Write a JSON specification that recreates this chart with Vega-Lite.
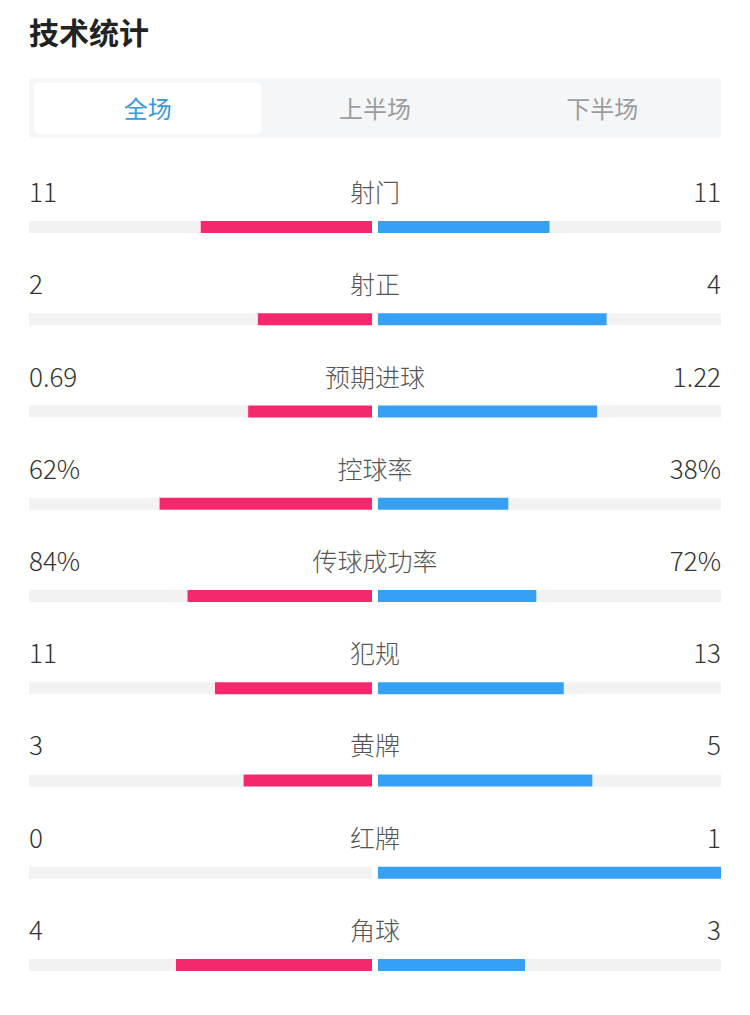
{
  "$schema": "https://vega.github.io/schema/vega-lite/v6.json",
  "background": "white",
  "padding": {"left": 29, "top": 20, "right": 29, "bottom": 0},
  "title": {"text": "技术统计", "anchor": "start", "fontSize": 30, "fontWeight": "bold", "color": "#222222", "font": "Noto Sans CJK SC", "offset": 28},
  "datasets": {
    "tabs": [
      {"tab": "全场", "sel": true},
      {"tab": "上半场", "sel": false},
      {"tab": "下半场", "sel": false}
    ],
    "stats": [
      {"stat": "射门", "side": "home", "value": 11, "label": "11"},
      {"stat": "射门", "side": "away", "value": 11, "label": "11"},
      {"stat": "射正", "side": "home", "value": 2, "label": "2"},
      {"stat": "射正", "side": "away", "value": 4, "label": "4"},
      {"stat": "预期进球", "side": "home", "value": 0.69, "label": "0.69"},
      {"stat": "预期进球", "side": "away", "value": 1.22, "label": "1.22"},
      {"stat": "控球率", "side": "home", "value": 62, "label": "62%"},
      {"stat": "控球率", "side": "away", "value": 38, "label": "38%"},
      {"stat": "传球成功率", "side": "home", "value": 84, "label": "84%"},
      {"stat": "传球成功率", "side": "away", "value": 72, "label": "72%"},
      {"stat": "犯规", "side": "home", "value": 11, "label": "11"},
      {"stat": "犯规", "side": "away", "value": 13, "label": "13"},
      {"stat": "黄牌", "side": "home", "value": 3, "label": "3"},
      {"stat": "黄牌", "side": "away", "value": 5, "label": "5"},
      {"stat": "红牌", "side": "home", "value": 0, "label": "0"},
      {"stat": "红牌", "side": "away", "value": 1, "label": "1"},
      {"stat": "角球", "side": "home", "value": 4, "label": "4"},
      {"stat": "角球", "side": "away", "value": 3, "label": "3"}
    ]
  },
  "bounds": "flush",
  "spacing": 43,
  "vconcat": [
    {
      "width": 692,
      "height": 60,
      "view": {"fill": "#f5f6f8", "stroke": null, "cornerRadius": 4},
      "data": {"name": "tabs"},
      "encoding": {
        "x": {"field": "tab", "type": "nominal", "sort": null, "axis": null, "scale": {"paddingInner": 0, "paddingOuter": 0.022}}
      },
      "layer": [
        {
          "transform": [{"filter": "datum.sel"}],
          "mark": {"type": "bar", "color": "white", "cornerRadius": 4},
          "encoding": {
            "y": {"datum": 0.07, "type": "quantitative", "scale": {"domain": [0, 1]}, "axis": null},
            "y2": {"datum": 0.92}
          }
        },
        {
          "mark": {"type": "text", "fontSize": 24, "font": "Noto Sans CJK SC", "baseline": "middle", "align": "center"},
          "encoding": {
            "y": {"datum": 0.45, "type": "quantitative"},
            "text": {"field": "tab"},
            "color": {"condition": {"test": "datum.sel", "value": "#3a9ad6"}, "value": "#9c9c9c"}
          }
        }
      ]
    },
    {
      "bounds": "flush",
      "spacing": 6,
      "hconcat": [
        {
          "width": 343,
          "height": 830,
          "data": {"name": "stats"},
          "encoding": {
            "y": {"field": "stat", "type": "nominal", "sort": null, "axis": null, "scale": {"paddingInner": 0, "paddingOuter": 0}}
          },
          "layer": [
            {
              "mark": {"type": "bar", "height": 12},
              "encoding": {
                "x": {"field": "value", "type": "quantitative", "stack": "normalize", "scale": {"domain": [0, 1], "reverse": true, "nice": false}, "axis": {"domain": true, "domainColor": "#ebebeb", "domainWidth": 1, "ticks": false, "labels": false, "grid": false, "title": null}},
                "color": {"field": "side", "type": "nominal", "scale": {"domain": ["home", "away"], "range": ["#f5286e", "#f2f2f2"]}, "legend": null},
                "order": {"field": "side", "sort": "descending"}
              }
            },
            {
              "transform": [{"filter": "datum.side == 'home'"}],
              "mark": {"type": "text", "fontSize": 26, "font": "Noto Sans CJK SC", "fontWeight": 300, "align": "left", "baseline": "middle", "dy": -33, "color": "#333333"},
              "encoding": {"x": {"datum": 1, "type": "quantitative"}, "text": {"field": "label"}}
            },
            {
              "transform": [{"filter": "datum.side == 'home'"}],
              "mark": {"type": "text", "fontSize": 25, "font": "Noto Sans CJK SC", "fontWeight": 300, "align": "center", "baseline": "middle", "dy": -33, "dx": 3, "color": "#555555"},
              "encoding": {"x": {"datum": 0, "type": "quantitative"}, "text": {"field": "stat"}}
            }
          ]
        },
        {
          "width": 343,
          "height": 830,
          "data": {"name": "stats"},
          "encoding": {
            "y": {"field": "stat", "type": "nominal", "sort": null, "axis": null, "scale": {"paddingInner": 0, "paddingOuter": 0}}
          },
          "layer": [
            {
              "mark": {"type": "bar", "height": 12},
              "encoding": {
                "x": {"field": "value", "type": "quantitative", "stack": "normalize", "scale": {"domain": [0, 1], "nice": false}, "axis": {"domain": true, "domainColor": "#ebebeb", "domainWidth": 1, "ticks": false, "labels": false, "grid": false, "title": null}},
                "color": {"field": "side", "type": "nominal", "scale": {"domain": ["away", "home"], "range": ["#36a0f4", "#f2f2f2"]}, "legend": null},
                "order": {"field": "side", "sort": "ascending"}
              }
            },
            {
              "transform": [{"filter": "datum.side == 'away'"}],
              "mark": {"type": "text", "fontSize": 26, "font": "Noto Sans CJK SC", "fontWeight": 300, "align": "right", "baseline": "middle", "dy": -33, "color": "#333333"},
              "encoding": {"x": {"datum": 1, "type": "quantitative"}, "text": {"field": "label"}}
            }
          ]
        }
      ],
      "resolve": {"scale": {"color": "independent", "x": "independent"}}
    }
  ],
  "config": {
    "view": {"stroke": null},
    "font": "Noto Sans CJK SC"
  }
}
